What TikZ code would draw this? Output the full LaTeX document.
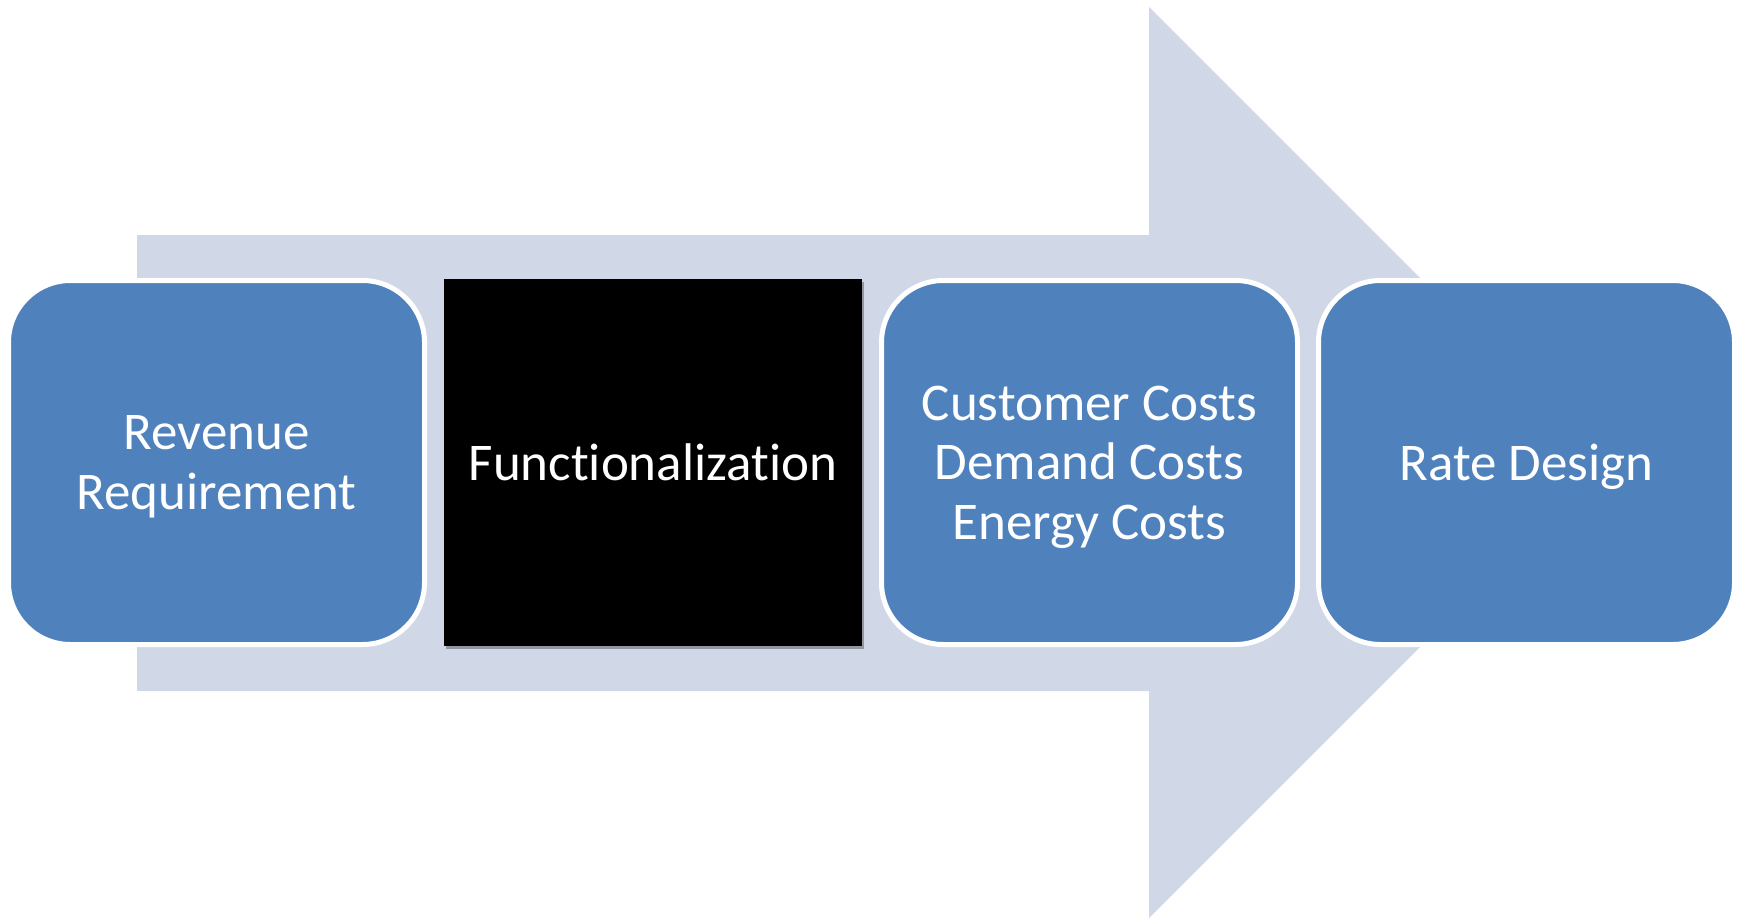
\documentclass[tikz,border=0pt]{standalone}
\usepackage{fontspec}
\setmainfont[Ligatures=NoCommon]{Carlito}
\usetikzlibrary{shadows}
\definecolor{boxblue}{HTML}{4F81BD}
\definecolor{arrowfill}{HTML}{D0D8E8}
\begin{document}
\begin{tikzpicture}[x=1pt,y=-1pt,
  stagetext/.style={text=white, align=center,
    font=\fontsize{53}{59.5}\selectfont, inner sep=0pt, yshift=-4.5pt},
  stage/.style={rectangle, rounded corners=62pt, fill=boxblue, draw=white,
    line width=5pt, minimum width=416pt, minimum height=364pt,
    inner sep=0pt, label={[stagetext]center:{#1}}},
  darkstage/.style={rectangle, fill=black, draw=none,
    minimum width=418pt, minimum height=367pt, text=white,
    align=center, font=\fontsize{53}{59.5}\selectfont, inner sep=0pt,
    drop shadow={shadow xshift=1.5pt, shadow yshift=-3pt, fill=black, opacity=0.3}}]
\useasboundingbox (0,0) rectangle (1739,920);
% big background arrow
\fill[arrowfill] (137,235) -- (1149,235) -- (1149,7) -- (1604.5,462.5)
  -- (1149,918) -- (1149,691) -- (137,691) -- cycle;
% stages
\node[stage={Revenue\\Requirement}] (rev) at (216.5,462.5) {};
\node[darkstage] (func) at (653,462.5) {Functionalization};
\node[stage={Customer Costs\\Demand Costs\\Energy Costs}] (cost) at (1089.5,462.5) {};
\node[stage={Rate Design}] (rate) at (1526.5,462.5) {};
\end{tikzpicture}
\end{document}
